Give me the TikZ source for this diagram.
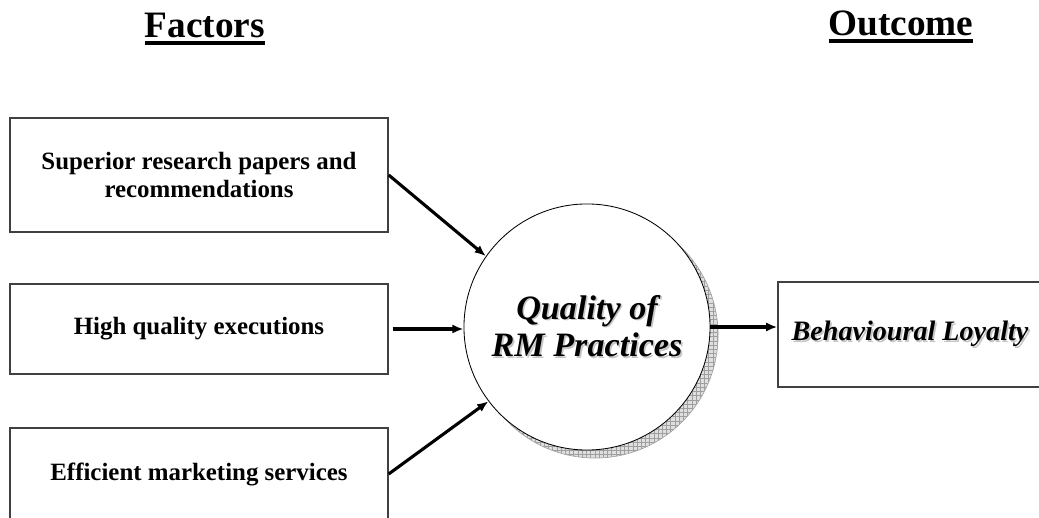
\documentclass[tikz,border=0pt]{standalone}
\usepackage{fontspec}
\setmainfont{Liberation Serif}
\usepackage{tikz}
\usetikzlibrary{arrows.meta, patterns}
\newcommand{\heavyul}[1]{\setbox0\hbox{#1}\rlap{\rule[-5pt]{\wd0}{2.6pt}}\box0}
\newcommand{\shd}[1]{\rlap{\hspace{1.2pt}\raisebox{-1.2pt}{\textcolor{gray!45}{#1}}}#1}
\tikzset{
    factor/.style={rectangle, draw=black!75, line width=0.9pt, fill=white, align=center, minimum width=9.45cm, font=\fontsize{17.7}{20}\selectfont\bfseries},
    core/.style={circle, draw=black, line width=0.6pt, fill=white, minimum size=6.15cm, inner sep=0pt, align=center, font=\fontsize{24.3}{27}\selectfont\bfseries\itshape},
    coreshadow/.style={circle, draw=gray!70, line width=0.5pt, minimum size=6.15cm, inner sep=0pt, preaction={fill=gray!25}, pattern=grid, pattern color=gray!75},
    result/.style={rectangle, draw=black!75, line width=0.9pt, fill=white, align=center, minimum width=6.6cm, minimum height=2.625cm, font=\fontsize{20}{24}\selectfont\bfseries\itshape},
    heading/.style={font=\fontsize{26.5}{30}\selectfont\bfseries, anchor=base},
    arrow/.style={-{Latex[length=8pt,width=6.5pt]}, line width=2.2pt}
}
\begin{document}
\begin{tikzpicture}[x=0.025cm, y=0.025cm]
        \useasboundingbox (0,0) rectangle (1039,518);

        % Headings
        \node[heading] (factors) at (205,480) {\heavyul{Factors}};
        \node[heading] (outcome) at (901,482) {\heavyul{Outcome}};

        % Factors
        \node[factor, minimum height=2.85cm] (research) at (199,343) {Superior research papers and\\recommendations};
        \node[factor, minimum height=2.25cm] (execution) at (199,189) {High quality executions};
        \node[factor, minimum height=2.3cm] (marketing) at (199,44) {Efficient marketing services};

        % Quality of RM practices
        \node[coreshadow] (qualityshadow) at (595,183) {};
        \node[core] (quality) at (587,191) {\shd{Quality of}\\\shd{RM Practices}};

        % Outcome
        \node[result] (loyalty) at (910,183.5) {\shd{Behavioural Loyalty}};

        % Arrows
        \draw[arrow] (research.east) -- (quality.145);
        \draw[arrow, shorten <=3pt] (execution.east) -- (execution.east -| quality.west);
        \draw[arrow] (marketing.east) -- (quality.217);
        \draw[arrow] (quality.east) -- (quality.east -| loyalty.west);
    \end{tikzpicture}
\end{document}
